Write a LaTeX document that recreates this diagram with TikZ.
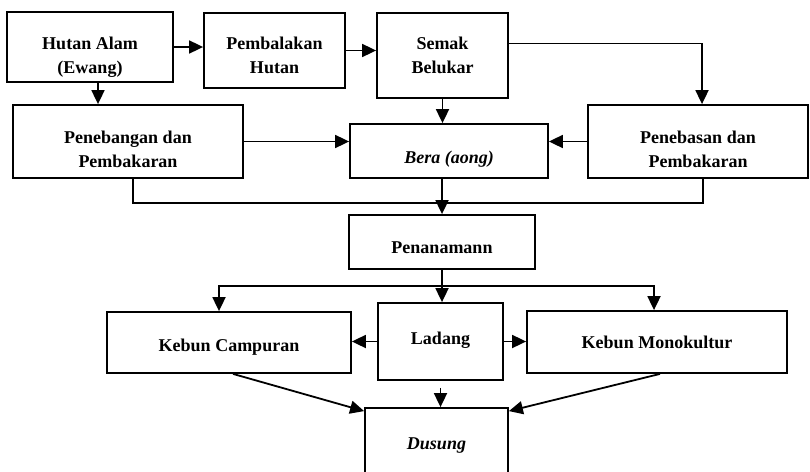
\documentclass[tikz,border=0pt]{standalone}
\usepackage{fontspec}
\setmainfont{Liberation Serif}
\usetikzlibrary{arrows.meta}
\usetikzlibrary{positioning}

% teks di dalam kotak, diturunkan sedikit
\newcommand{\teks}[2]{\raisebox{-#1}[\height][\depth]{\begin{tabular}{@{}c@{}}#2\end{tabular}}}

\begin{document}
\begin{tikzpicture}
    [x=1pt, y=-1pt, line width=1.8pt, >={Triangle[length=14pt,width=13pt]},
     kotak/.style={draw, rectangle, align=center, inner sep=0pt,
       font=\fontsize{18}{24}\selectfont\bfseries}]
    \useasboundingbox (0,0) rectangle (810,471);
    \clip (0,0) rectangle (810,471);

    \node[kotak, minimum width=166, minimum height=70] (hutan) at (90,47) {\teks{9.5pt}{Hutan Alam\\(Ewang)}};
    \node[kotak, minimum width=141, minimum height=75] (balak) at (274.5,50.5) {\teks{6pt}{Pembalakan\\Hutan}};
    \node[kotak, minimum width=131, minimum height=85] (semak) at (442.5,55.5) {\teks{1pt}{Semak\\Belukar}};
    \node[kotak, minimum width=230, minimum height=73] (tebang) at (128,141.5) {\teks{9pt}{Penebangan dan\\Pembakaran}};
    \node[kotak, minimum width=198, minimum height=54] (bera) at (449,151) {\teks{8pt}{\itshape Bera (aong)}};
    \node[kotak, minimum width=220, minimum height=73] (tebas) at (698,141.5) {\teks{9pt}{Penebasan dan\\Pembakaran}};
    \node[kotak, minimum width=186, minimum height=54] (tanam) at (442,242) {\teks{7pt}{Penanamann}};
    \node[kotak, minimum width=244, minimum height=61] (campur) at (229,342.5) {\teks{4pt}{Kebun Campuran}};
    \node[kotak, minimum width=125, minimum height=77] (ladang) at (440.5,341.5) {\teks{-2pt}{Ladang}};
    \node[kotak, minimum width=260, minimum height=62] (mono) at (657,342) {\teks{2pt}{Kebun Monokultur}};
    \node[kotak, minimum width=143, minimum height=68] (dusung) at (436.5,442) {\teks{3pt}{\itshape Dusung}};

    \coordinate (gabung) at (442,203);
    \coordinate (cabang) at (442,286);

    \draw[->] (hutan) -- (hutan -| balak.west);
    \draw[->] (balak) -- (balak -| semak.west);
    \draw[->] ([xshift=8pt]hutan.south) -- ([xshift=8pt]hutan.south |- tebang.north);
    \draw[->] (semak.south) -- (semak.south |- bera.north);
    \draw[->] ([yshift=12pt]semak.east) -| ([xshift=4pt]tebas.north);
    \draw[->] (tebang) -- (tebang -| bera.west);
    \draw[->] (tebas) -- (tebas -| bera.east);
    \draw ([xshift=5pt]tebang.south) |- (gabung) -| ([xshift=5pt]tebas.south);
    \draw[->] (tanam.north |- bera.south) -- (tanam.north);
    \draw[->] (tanam.south) -- (tanam.south |- ladang.north);
    \draw[->] (cabang) -| ([xshift=-10pt]campur.north);
    \draw[->] (cabang) -| ([xshift=-3pt]mono.north);
    \draw[->] (ladang) -- (ladang -| campur.east);
    \draw[->] (ladang) -- (ladang -| mono.west);
    \draw[->] ([yshift=-7pt]ladang.south) -- (ladang.south |- dusung.north);
    \draw[->] ([xshift=4pt]campur.south) -- ([yshift=-4pt]dusung.north west);
    \draw[->] ([xshift=3pt]mono.south) -- ([yshift=-4pt]dusung.north east);

  \end{tikzpicture}
\end{document}
